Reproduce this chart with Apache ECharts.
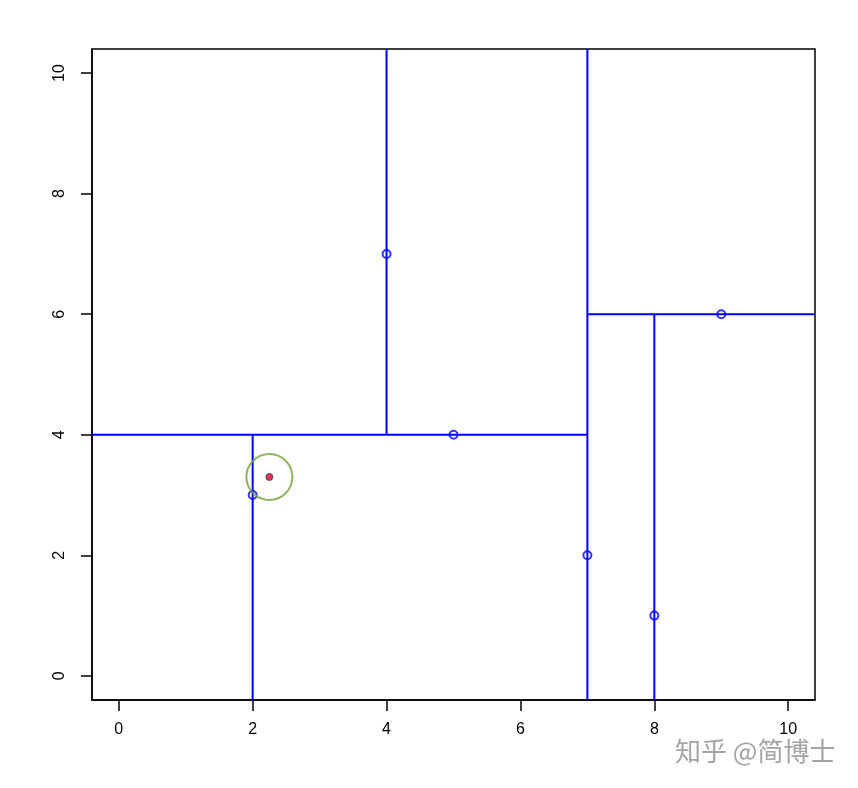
<!DOCTYPE html>
<html>
<head>
<meta charset="utf-8">
<script src="https://cdn.jsdelivr.net/npm/echarts@6/dist/echarts.min.js"></script>
<style>html,body{margin:0;padding:0;background:#fff;}#c{width:858px;height:788px;}</style>
</head>
<body>
<div id="c"></div>
<script>
// Training points
const pointsX = [2, 5, 4, 7, 8, 9];
const pointsY = [3, 4, 7, 2, 1, 6];
// Query point and its nearest-neighbour circle centre
const queryPoint = [2.25, 3.3];
// Split segments: [x1, y1, x2, y2]
const segments = [
  [4, 4, 4, 10.4],
  [-0.4, 4, 7, 4],
  [7, -0.4, 7, 10.4],
  [2, -0.4, 2, 4],
  [7, 6, 10.4, 6],
  [8, -0.4, 8, 6]
];
const xTicks = [0, 2, 4, 6, 8, 10];
const yTicks = [0, 2, 4, 6, 8, 10];

const chart = echarts.init(document.getElementById('c'));
const series = segments.map(s => ({
  type: 'line',
  data: [[s[0], s[1]], [s[2], s[3]]],
  showSymbol: false,
  symbol: 'none',
  lineStyle: { color: '#0000ff', width: 2 },
  silent: true,
  clip: true,
  z: 2
}));
series.push({
  type: 'scatter',
  data: pointsX.map((x, i) => [x, pointsY[i]]),
  symbol: 'circle',
  symbolSize: 8,
  itemStyle: { color: 'rgba(255,255,255,0)', borderColor: '#0000ff', borderWidth: 2 },
  z: 3
});
series.push({
  type: 'scatter',
  data: [queryPoint],
  symbol: 'circle',
  symbolSize: 46,
  itemStyle: { color: 'rgba(255,255,255,0)', borderColor: '#74a13c', borderWidth: 2 },
  z: 4
});
series.push({
  type: 'scatter',
  data: [queryPoint],
  symbol: 'circle',
  symbolSize: 7,
  itemStyle: { color: '#d4002a', borderColor: '#5a2a5a', borderWidth: 1 },
  z: 5
});

chart.setOption({
  animation: false,
  backgroundColor: '#ffffff',
  grid: { left: 92, top: 49, width: 723, height: 651, show: true, borderColor: '#000', borderWidth: 1.5, backgroundColor: 'transparent' },
  xAxis: {
    type: 'value', min: -0.4, max: 10.4,
    splitLine: { show: false },
    axisLine: { show: true, onZero: false, lineStyle: { color: '#000', width: 1.5 } },
    axisTick: { show: true, length: 11, customValues: xTicks, lineStyle: { color: '#000', width: 1.5 } },
    axisLabel: { customValues: xTicks, margin: 22, color: '#000', fontSize: 16, fontFamily: 'Liberation Sans, Arial, sans-serif' }
  },
  yAxis: {
    type: 'value', min: -0.4, max: 10.4,
    splitLine: { show: false },
    axisLine: { show: true, onZero: false, lineStyle: { color: '#000', width: 1.5 } },
    axisTick: { show: true, length: 11, customValues: yTicks, lineStyle: { color: '#000', width: 1.5 } },
    axisLabel: { customValues: yTicks, rotate: 90, margin: 24, color: '#000', fontSize: 16, fontFamily: 'Liberation Sans, Arial, sans-serif' }
  },
  graphic: [{
    type: 'text', left: 675, top: 738,
    style: { text: '知乎 @简博士', fill: '#a3a3a3', font: '26px "Noto Sans CJK SC", sans-serif' }
  }],
  series: series
});
</script>
</body>
</html>
